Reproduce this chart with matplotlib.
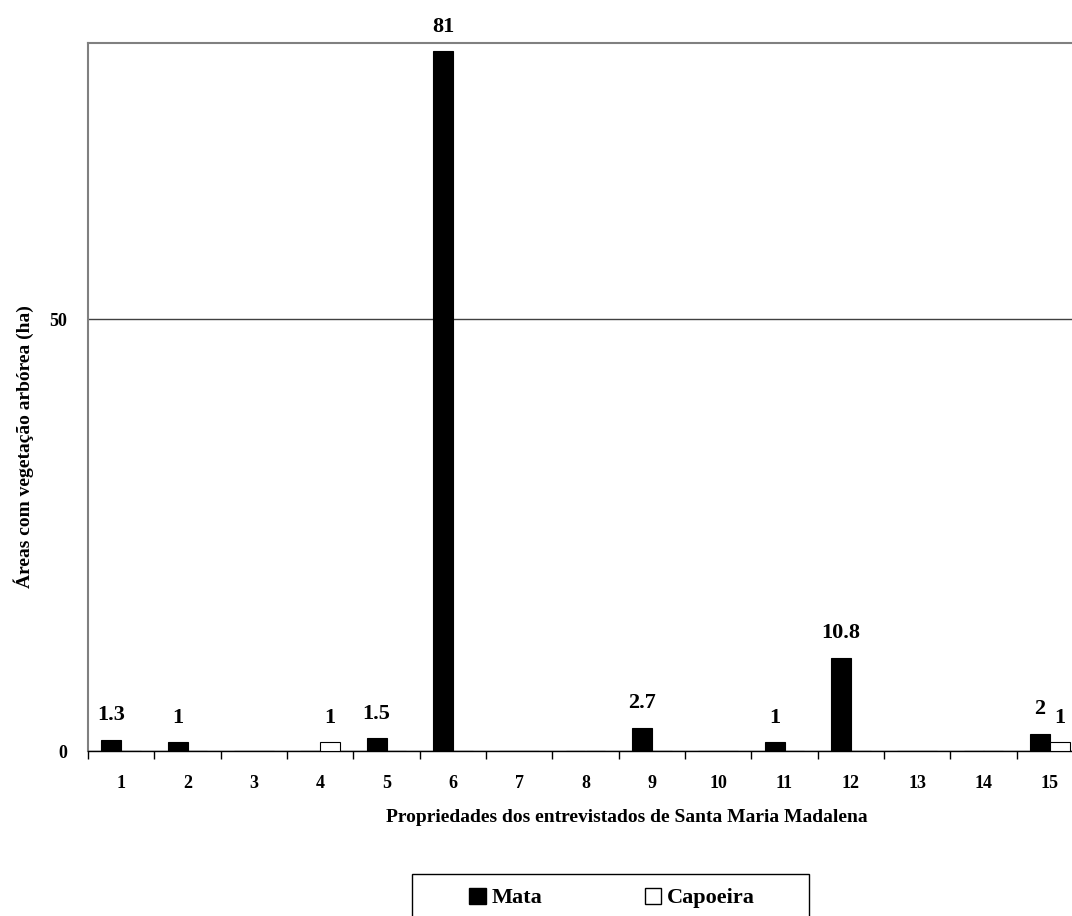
import matplotlib
matplotlib.use("Agg")
import matplotlib.pyplot as plt
import matplotlib.patches as mpatches
import numpy as np

plt.rcParams['font.family'] = ['Liberation Serif', 'DejaVu Serif']
plt.rcParams['font.weight'] = 'bold'

# ─── dados ─────────────────────────────────────────
propriedades = [str(i) for i in range(1, 16)]
mata = [1.3, 1, 0, 0, 1.5, 81, 0, 0, 2.7, 0, 1, 10.8, 0, 0, 2]
capoeira = [0, 0, 0, 1, 0, 0, 0, 0, 0, 0, 0, 0, 0, 0, 1]

W, H = 1072, 916
fig = plt.figure(figsize=(W / 100, H / 100), dpi=100)
# plot area runs past the right edge (reference is cropped there)
ax = fig.add_axes([88 / W, 1 - 751 / H, (1083 - 88) / W, (751 - 42.7) / H])

x = np.arange(len(propriedades))
bw = 0.3
b1 = ax.bar(x - bw / 2, mata, bw, color='black', edgecolor='black', linewidth=0.8, zorder=3)
b2 = ax.bar(x + bw / 2, capoeira, bw, color='white', edgecolor='black', linewidth=0.8, zorder=3)

# rótulos de valor
for bars, vals in ((b1, mata), (b2, capoeira)):
    for r, v in zip(bars, vals):
        if v == 0:
            continue
        ax.annotate(f"{v:g}", (r.get_x() + r.get_width() / 2, v), xytext=(0, 14),
                    textcoords='offset points', ha='center', va='baseline',
                    fontsize=16, fontweight='bold')

ax.set_xlim(-0.5, len(propriedades) - 0.5)
ax.set_ylim(0, 82)

ax.set_yticks([0, 50])
ax.set_yticklabels(['0', '50'], fontsize=13, fontweight='bold')
ax.tick_params(axis='y', length=0, pad=15)
ax.yaxis.grid(True, color='#404040', linewidth=1)
ax.set_axisbelow(True)

ax.set_xticks(x)
ax.set_xticklabels(propriedades, fontsize=13, fontweight='bold')
ax.tick_params(axis='x', which='major', length=0, pad=17)
ax.set_xticks(np.arange(-0.5, len(propriedades), 1), minor=True)
ax.tick_params(axis='x', which='minor', length=6, width=1, color='black', direction='out')

ax.spines['left'].set_color('#808080')
ax.spines['left'].set_linewidth(1.5)
ax.spines['top'].set_color('#808080')
ax.spines['top'].set_linewidth(1.5)
ax.spines['right'].set_visible(False)
ax.spines['bottom'].set_color('black')
ax.spines['bottom'].set_linewidth(1)

fig.text(24 / W, 1 - 447 / H, 'Áreas com vegetação arbórea (ha)', rotation=90,
         ha='center', va='center', fontsize=14, fontweight='bold')
fig.text(627 / W, 1 - 817 / H, 'Propriedades dos entrevistados de Santa Maria Madalena',
         ha='center', va='center', fontsize=14, fontweight='bold')

# legenda
handles = [mpatches.Patch(facecolor='black', edgecolor='black', label='Mata'),
           mpatches.Patch(facecolor='white', edgecolor='black', label='Capoeira')]
fig.legend(handles=handles, loc='center', bbox_to_anchor=(612 / W, 1 - 898 / H),
           ncol=2, frameon=False, prop={'size': 16, 'weight': 'bold'},
           handlelength=0.75, handleheight=0.75, handletextpad=0.25, columnspacing=4.6)
fig.patches.append(mpatches.Rectangle((412 / W, -0.05), (809 - 412) / W, 0.05 + (916 - 874) / H,
                                      transform=fig.transFigure, fill=False,
                                      edgecolor='black', linewidth=1))

fig.patch.set_facecolor('white')
fig.savefig('out.png', dpi=100, facecolor='white')
